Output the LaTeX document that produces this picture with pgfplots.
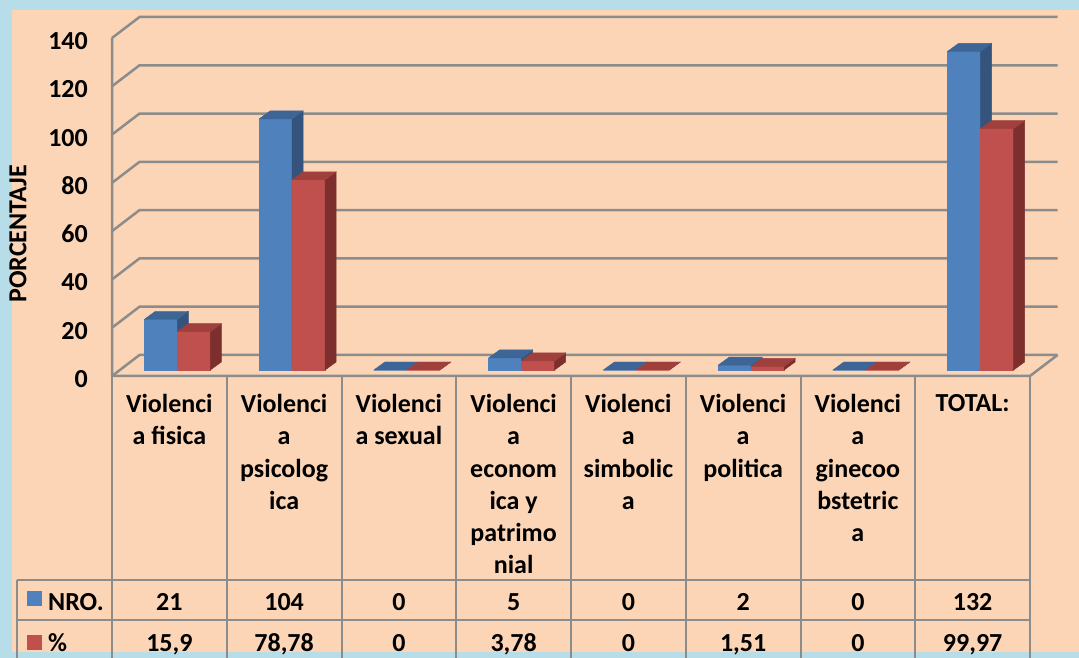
\documentclass[border=0pt]{standalone}
\usepackage{pgfplots}
\usepackage{pgfplotstable}
\pgfplotsset{compat=1.18}
\usepackage{fontspec}
\setmainfont{Carlito}
\definecolor{peach}{HTML}{FBD5B5}
\definecolor{framec}{HTML}{B7DDE8}
\definecolor{gridc}{HTML}{8C8C8C}
\definecolor{bF}{HTML}{4F81BD}
\definecolor{bT}{HTML}{3D6596}
\definecolor{bS}{HTML}{34547D}
\definecolor{rF}{HTML}{C0504D}
\definecolor{rT}{HTML}{A0403D}
\definecolor{rS}{HTML}{7D2F2E}
\pgfdeclareplotmark{nothing}{}
\newcommand{\bigfont}{\fontsize{26}{32.3}\selectfont\bfseries}
\pgfplotstableread{
cat nro pct
0 21 15.9
1 104 78.78
2 0 0
3 5 3.78
4 0 0
5 2 1.51
6 0 0
7 132 99.97
}\datatable
\begin{document}
\begin{tikzpicture}[x=1pt,y=1pt]
\useasboundingbox (0,0) rectangle (1079,658);
\fill[framec] (0,0) rectangle (1079,658);
\fill[peach] (12,6) rectangle (1079,648);
\begin{axis}[
  at={(112pt,282pt)}, anchor=south west,
  scale only axis, width=918pt, height=338pt,
  xmin=-0.5, xmax=7.5, ymin=0, ymax=140,
  clip=false,
  axis line style={draw=none},
  tick style={draw=none},
  xtick={0,1,2,3,4,5,6,7},
  xticklabels={{Violenci\\a fisica},{Violenci\\a\\psicolog\\ica},{Violenci\\a sexual},{Violenci\\a\\econom\\ica y\\patrimo\\nial},{Violenci\\a\\simbolic\\a},{Violenci\\a\\politica},{Violenci\\a\\ginecoo\\bstetric\\a},{TOTAL:}},
  ytick={0,20,40,60,80,100,120,140},
  /pgf/number format/assume math mode=true,
  ticklabel style={font=\bigfont},
  xticklabel style={anchor=north, align=center, inner sep=0pt, yshift=-18pt},
  yticklabel style={anchor=east, inner sep=0pt, xshift=-24pt, yshift=-3pt},
]
% back wall grid, left wall, floor
\pgfplotsinvokeforeach{0,20,40,60,80,100,120,140}{
  \draw[gridc, line width=2.5pt] (axis cs:-0.5,#1) -- ([xshift=27.5pt,yshift=21pt]axis cs:-0.5,#1) -- ([xshift=27.5pt,yshift=21pt]axis cs:7.5,#1);
}
\draw[gridc, line width=2.5pt] (axis cs:-0.5,140) -- (axis cs:-0.5,0) -- (axis cs:7.5,0) -- ([xshift=27.5pt,yshift=21pt]axis cs:7.5,0);
% NRO bars
\addplot[only marks, scatter, mark=nothing,
  visualization depends on={rawy \as \rawy},
  scatter/@pre marker code/.code={%
    \pgfmathsetmacro\hh{\rawy*2.41429}%
    \fill[bF] (-8.5pt,6pt-\hh pt) rectangle (24.5pt,6pt);
    \fill[bS] (24.5pt,6pt) -- (35.5pt,14pt) -- (35.5pt,14pt-\hh pt) -- (24.5pt,6pt-\hh pt) -- cycle;
    \fill[bT] (-8.5pt,6pt) -- (24.5pt,6pt) -- (35.5pt,14pt) -- (2.5pt,14pt) -- cycle;
  },
  scatter/@post marker code/.code={}]
  table[x expr=\thisrow{cat}-0.1438, y=nro] {\datatable};
% % bars
\addplot[only marks, scatter, mark=nothing,
  visualization depends on={rawy \as \rawy},
  scatter/@pre marker code/.code={%
    \pgfmathsetmacro\hh{\rawy*2.41429}%
    \fill[rF] (-8.5pt,6pt-\hh pt) rectangle (24.5pt,6pt);
    \fill[rS] (24.5pt,6pt) -- (35.5pt,14pt) -- (35.5pt,14pt-\hh pt) -- (24.5pt,6pt-\hh pt) -- cycle;
    \fill[rT] (-8.5pt,6pt) -- (24.5pt,6pt) -- (35.5pt,14pt) -- (2.5pt,14pt) -- cycle;
  },
  scatter/@post marker code/.code={}]
  table[x expr=\thisrow{cat}+0.1438, y=pct] {\datatable};
\end{axis}
% data table lines
\begin{scope}[gridc, line width=2pt]
\foreach \k in {0,...,8} \draw (112+114.75*\k,282) -- (112+114.75*\k,0);
\draw (17,78) -- (1030,78);
\draw (17,38) -- (1030,38);
\draw (17,78) -- (17,0);
\end{scope}
\foreach \v [count=\i from 0] in {21,104,0,5,0,2,0,132}
  \node[anchor=base, font=\bigfont, inner sep=0pt] at (169.375+114.75*\i,47) {\v};
\foreach \v [count=\i from 0] in {{15,9},{78,78},0,{3,78},0,{1,51},0,{99,97}}
  \node[anchor=base, font=\bigfont, inner sep=0pt] at (169.375+114.75*\i,6) {\v};
\fill[bF] (27,52) rectangle (42,67);
\fill[rF] (27,8) rectangle (42,23);
\node[anchor=base west, font=\bigfont, inner sep=0pt] at (48,47) {NRO.};
\node[anchor=base west, font=\bigfont, inner sep=0pt] at (48,6) {\%};
\node[rotate=90, font=\bigfont, inner sep=0pt] at (18,424) {PORCENTAJE};
\end{tikzpicture}
\end{document}
